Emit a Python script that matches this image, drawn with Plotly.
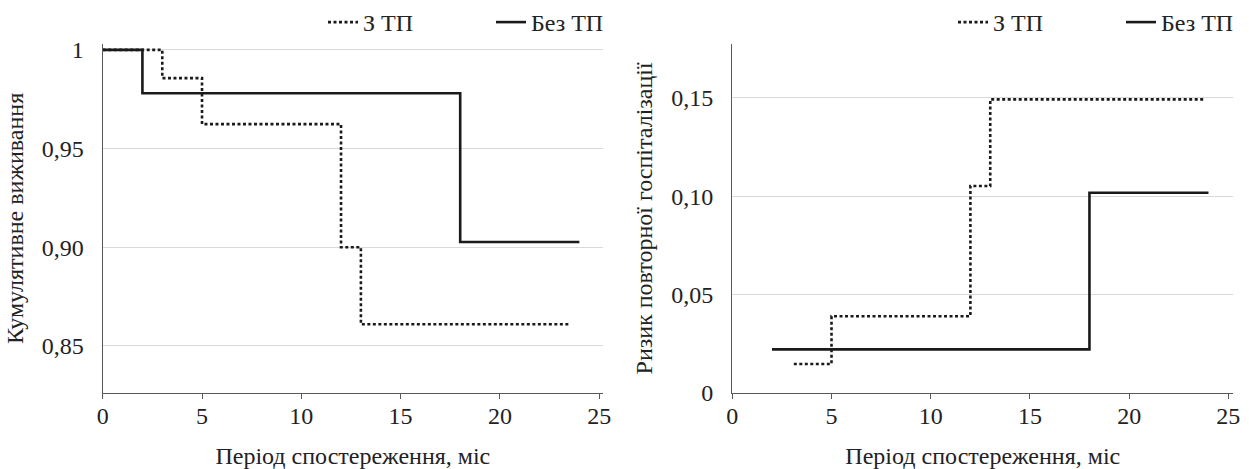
import plotly.graph_objects as go

# ---- data ----
x_ticks = [0, 5, 10, 15, 20, 25]
x_tick_text = ["0", "5", "10", "15", "20", "25"]

# Left: cumulative survival
surv_tp_x = [0, 3, 5, 12, 13, 23.5]
surv_tp_y = [1.0, 0.9857, 0.9624, 0.900, 0.861, 0.861]
surv_notp_x = [0, 2, 18, 24]
surv_notp_y = [1.0, 0.978, 0.9027, 0.9027]
surv_ticks = [0.85, 0.90, 0.95, 1.0]
surv_tick_text = ["0,85", "0,90", "0,95", "1"]

# Right: risk of re-hospitalisation
risk_tp_x = [3.1, 5, 12, 13, 23.85]
risk_tp_y = [0.0147, 0.039, 0.1052, 0.1493, 0.1493]
risk_notp_x = [2, 18, 24]
risk_notp_y = [0.0221, 0.1018, 0.1018]
risk_ticks = [0, 0.05, 0.10, 0.15]
risk_tick_text = ["0", "0,05", "0,10", "0,15"]

name_tp = "З ТП"
name_notp = "Без ТП"

FONT = "Liberation Serif"
LINE = "#1a1a1a"
AXIS = "#595959"
GRID = "#d9d9d9"
TXT = "#222222"
FS = 24
W, H = 1249, 469

fig = go.Figure()

dot_style = dict(color=LINE, width=2.6, dash="3px,2.5px")
solid_style = dict(color=LINE, width=2.6)

fig.add_trace(go.Scatter(x=surv_tp_x, y=surv_tp_y, mode="lines", line_shape="hv",
                         line=dot_style, name=name_tp, legend="legend",
                         xaxis="x", yaxis="y"))
fig.add_trace(go.Scatter(x=surv_notp_x, y=surv_notp_y, mode="lines", line_shape="hv",
                         line=solid_style, name=name_notp, legend="legend2",
                         xaxis="x", yaxis="y"))
fig.add_trace(go.Scatter(x=risk_tp_x, y=risk_tp_y, mode="lines", line_shape="hv",
                         line=dot_style, name=name_tp, legend="legend3",
                         xaxis="x2", yaxis="y2"))
fig.add_trace(go.Scatter(x=risk_notp_x, y=risk_notp_y, mode="lines", line_shape="hv",
                         line=solid_style, name=name_notp, legend="legend4",
                         xaxis="x2", yaxis="y2"))

y_dom = [1 - 392.7 / H, 1 - 43 / H]
tfont = dict(family=FONT, size=FS, color=TXT)

xcommon = dict(
    showline=True, linecolor=AXIS, linewidth=1.3,
    ticks="outside", ticklen=5, tickcolor=AXIS, tickwidth=1.3,
    tickvals=x_ticks, ticktext=x_tick_text,
    showgrid=False, zeroline=False, automargin=False,
    tickfont=tfont, ticklabelstandoff=-4,
    title=dict(text="Період спостереження, міс", font=tfont, standoff=22),
)
ycommon = dict(
    showline=True, linecolor=AXIS, linewidth=1.3,
    ticks="", showgrid=True, gridcolor=GRID, gridwidth=1.2, zeroline=False,
    automargin=False, tickfont=tfont, ticklabelstandoff=13,
)


def leg(xpx):
    return dict(orientation="h", x=xpx / W, xanchor="left", y=1 - 21.7 / H,
                yanchor="middle", font=tfont, bgcolor="rgba(0,0,0,0)",
                itemwidth=30, borderwidth=0)


fig.update_layout(
    width=W, height=H,
    margin=dict(l=0, r=0, t=0, b=0),
    paper_bgcolor="white", plot_bgcolor="white",
    font=tfont,
    xaxis=dict(domain=[102.7 / W, 603 / W], range=[0, 25.19], anchor="y", **xcommon),
    yaxis=dict(domain=y_dom, range=[0.82624, 1.00303], anchor="x",
               tickvals=surv_ticks, ticktext=surv_tick_text,
               title=dict(text="Кумулятивне виживання", font=tfont, standoff=11),
               **ycommon),
    xaxis2=dict(domain=[732.3 / W, 1233.3 / W], range=[0, 25.25], anchor="y2", **xcommon),
    yaxis2=dict(domain=y_dom, range=[0, 0.1775], anchor="x2",
                tickvals=risk_ticks, ticktext=risk_tick_text,
                title=dict(text="Ризик повторної госпіталізації", font=tfont, standoff=11),
                **ycommon),
    legend=leg(323),
    legend2=leg(491),
    legend3=leg(953),
    legend4=leg(1121),
    showlegend=True,
)

fig.write_html(
    "out.html",
    config={"displayModeBar": False},
    post_script="document.body.style.margin='0';document.body.style.overflow='hidden';",
)
